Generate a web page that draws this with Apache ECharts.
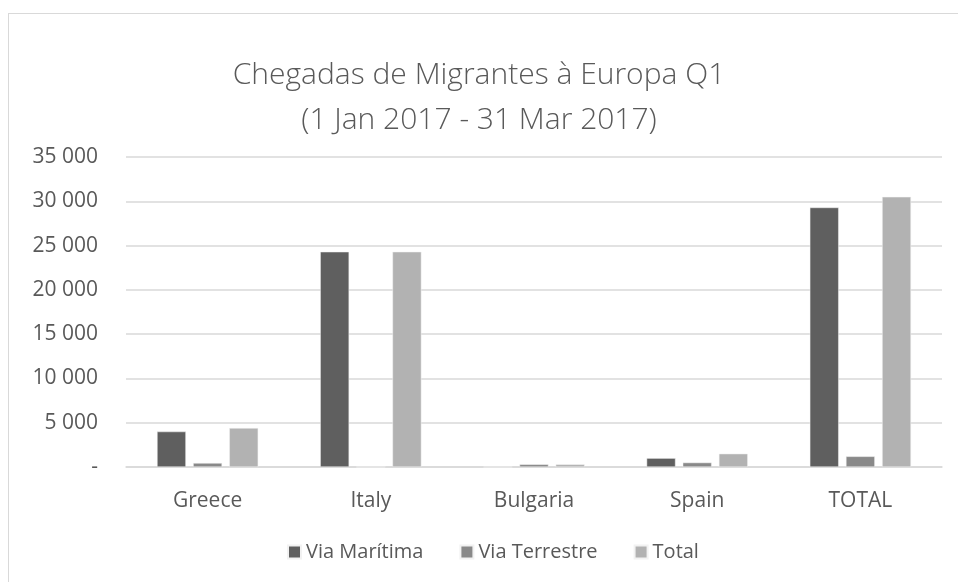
<!DOCTYPE html>
<html lang="pt">
<head>
    <meta charset="UTF-8">
    <title>Chegadas de Migrantes à Europa Q1</title>
    <script src="https://cdn.jsdelivr.net/npm/echarts@6/dist/echarts.min.js"></script>
    <style>
        html, body { margin: 0; padding: 0; background: #fff; overflow: hidden; }
        #frame {
            position: absolute; left: 8px; top: 13px;
            width: 1000px; height: 620px;
            border: 1px solid #d9d9d9;
        }
        #chart-container {
            position: absolute; left: 0; top: 0;
            width: 958px; height: 582px;
        }
    </style>
</head>
<body>
    <div id="frame"></div>
    <div id="chart-container"></div>
    <script>
        var paises = ['Greece', 'Italy', 'Bulgaria', 'Spain', 'TOTAL'];
        var viaMaritima = [4000, 24300, 0, 1000, 29300];
        var viaTerrestre = [450, 0, 300, 500, 1200];
        var total = [4400, 24300, 300, 1500, 30500];

        var fonte = '"Open Sans", "Noto Sans", sans-serif';
        var cinzaTexto = '#595959';

        function formatarEixo(v) {
            if (v === 0) return '-';
            return String(v).replace(/\B(?=(\d{3})+(?!\d))/g, ' ');
        }

        function serie(nome, dados, cor) {
            return {
                name: nome,
                type: 'bar',
                data: dados,
                barGap: '25%',
                barCategoryGap: '38%',
                itemStyle: { color: cor, borderColor: '#f2f2f2', borderWidth: 0.5 }
            };
        }

        var chart = echarts.init(document.getElementById('chart-container'));
        var option = {
            animation: false,
            textStyle: { fontFamily: fonte },
            title: {
                text: 'Chegadas de Migrantes à Europa Q1\n(1 Jan 2017 - 31 Mar 2017)',
                left: 'center',
                top: 48,
                textStyle: {
                    fontFamily: fonte,
                    fontWeight: 300,
                    fontSize: 30,
                    lineHeight: 45,
                    color: cinzaTexto
                }
            },
            legend: {
                bottom: 15,
                left: 282,
                itemWidth: 13,
                itemHeight: 13,
                itemGap: 36,
                icon: 'rect',
                textStyle: { fontSize: 20, color: cinzaTexto, fontFamily: fonte }
            },
            grid: { left: 126, right: 16, top: 157, bottom: 115 },
            xAxis: {
                type: 'category',
                data: paises,
                axisLine: { lineStyle: { color: '#d9d9d9', width: 1.5 } },
                axisTick: { show: false },
                axisLabel: { fontSize: 21, color: cinzaTexto, margin: 24 }
            },
            yAxis: {
                type: 'value',
                min: 0,
                max: 35000,
                interval: 5000,
                axisLine: { show: false },
                axisTick: { show: false },
                splitLine: { lineStyle: { color: '#d9d9d9', width: 1.5 } },
                axisLabel: { fontSize: 21, color: cinzaTexto, margin: 28, formatter: formatarEixo }
            },
            series: [
                serie('Via Marítima', viaMaritima, '#5f5f5f'),
                serie('Via Terrestre', viaTerrestre, '#898989'),
                serie('Total', total, '#b2b2b2')
            ]
        };
        chart.setOption(option);
    </script>
</body>
</html>
